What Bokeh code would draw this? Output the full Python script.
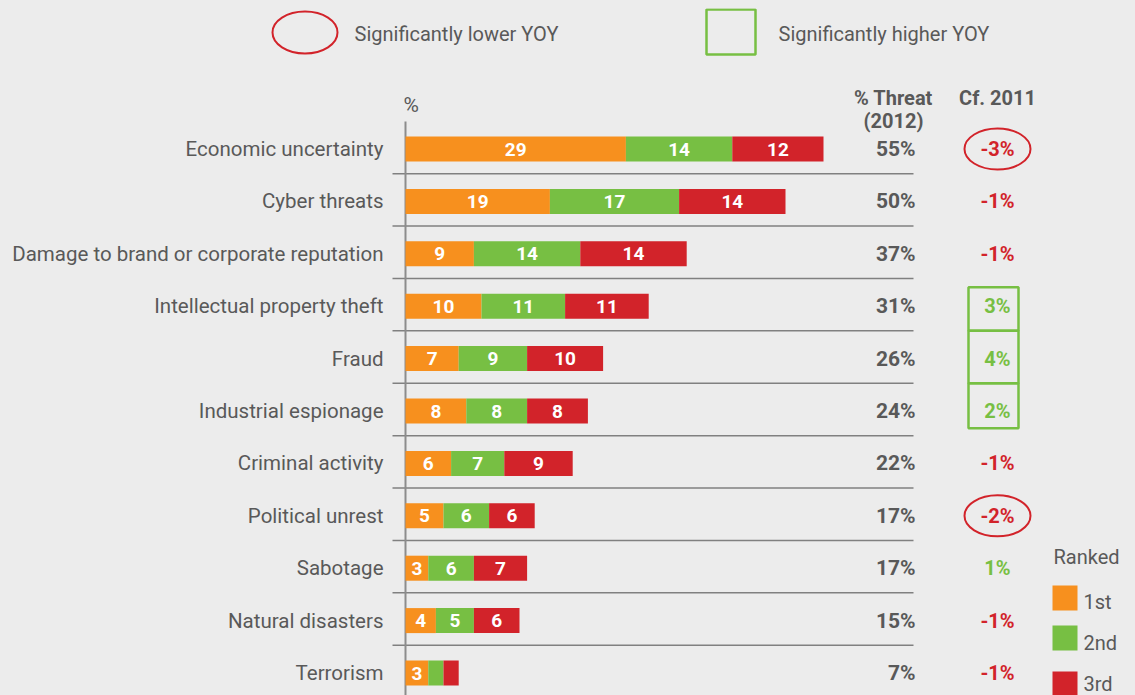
from bokeh.plotting import figure
from bokeh.models import Range1d, GlobalInlineStyleSheet
from bokeh.core.properties import value
from bokeh.embed import file_html
from bokeh.resources import INLINE

# ---------------- data ----------------
categories = ["Economic uncertainty", "Cyber threats", "Damage to brand or corporate reputation",
              "Intellectual property theft", "Fraud", "Industrial espionage", "Criminal activity",
              "Political unrest", "Sabotage", "Natural disasters", "Terrorism"]
rank1 = [29, 19, 9, 10, 7, 8, 6, 5, 3, 4, 3]
rank2 = [14, 17, 14, 11, 9, 8, 7, 6, 6, 5, 2]
rank3 = [12, 14, 14, 11, 10, 8, 9, 6, 7, 6, 2]
threat_2012 = [55, 50, 37, 31, 26, 24, 22, 17, 17, 15, 7]
change_vs_2011 = [-3, -1, -1, 3, 4, 2, -1, -2, 1, -1, -1]
significance = ["lower", "", "", "higher", "higher", "higher", "", "lower", "", "", ""]
rank_labels = ["1st", "2nd", "3rd"]
legend_labels = ["Significantly lower YOY", "Significantly higher YOY"]
header_threat = ["% Threat", "(2012)"]
header_cf = "Cf. 2011"
legend_title = "Ranked"

# ---------------- style ----------------
ORANGE, GREEN, RED = "#f7901e", "#77bf43", "#d2232a"
TXT = "#595959"
BG = "#ececec"
FONT = "Roboto"

W, H = 1119, 687
PX = 7.6      # pixels per percentage point
ROW = 52.4    # pixels per row
X0 = 405 - 8  # figure px of value 0
Y0 = 148.5 - 8  # figure px of first row centre


def sx(px):  # page px -> data x
    return (px - 8 - X0) / PX


def sy(py):  # page px -> data y (row units)
    return (py - 8 - Y0) / ROW


p = figure(width=W, height=H, output_backend="svg", toolbar_location=None,
           x_range=Range1d(-X0 / PX, (W - X0) / PX),
           y_range=Range1d((H - Y0) / ROW, -Y0 / ROW),
           min_border=0, outline_line_color=None,
           background_fill_color=BG, border_fill_color=BG)
p.axis.visible = False
p.grid.visible = False
p.stylesheets = [GlobalInlineStyleSheet(css="html, body { background-color: #ececec; } body { margin: 8px 8px 0 8px; }")]

n = len(categories)
ys = list(range(n))

# separators and axis line
p.segment(x0=[sx(392)] * (n - 1), x1=[sx(913)] * (n - 1), y0=[i + 0.47 for i in range(n - 1)],
          y1=[i + 0.47 for i in range(n - 1)], line_color="#808080", line_width=1.5)
p.segment(x0=[0], x1=[0], y0=[sy(121)], y1=[sy(720)], line_color="#8c8c8c", line_width=2)

# stacked bars
left = [0] * n
for vals, col in ((rank1, ORANGE), (rank2, GREEN), (rank3, RED)):
    right = [l + v for l, v in zip(left, vals)]
    p.hbar(y=ys, left=left, right=right, height=25 / ROW, fill_color=col, line_color=None)
    p.text(x=[(l + r) / 2 for l, r in zip(left, right)], y=ys,
           text=[str(v) if v >= 3 else "" for v in vals],
           text_color="white", text_font=value(FONT), text_font_style="bold",
           text_font_size="19px", text_align="center", text_baseline="middle")
    left = right

# category labels
p.text(x=[sx(383)] * n, y=ys, text=categories, text_color=TXT, text_font=value(FONT),
       text_font_size="20.5px", text_align="right", text_baseline="middle")
p.text(x=[sx(403)], y=[sy(104)], text=["%"], text_color=TXT, text_font=value(FONT),
       text_font_size="21px", text_align="left", text_baseline="middle")

# column headers
p.text(x=[sx(893), sx(893), sx(997)], y=[sy(97), sy(120), sy(97)],
       text=header_threat + [header_cf], text_color=TXT, text_font=value(FONT),
       text_font_style="bold", text_font_size="20px", text_align="center", text_baseline="middle")

# % threat column
p.text(x=[sx(915)] * n, y=ys, text=[f"{v}%" for v in threat_2012], text_color=TXT,
       text_font=value(FONT), text_font_style="bold", text_font_size="21px",
       text_align="right", text_baseline="middle")

# change column
p.text(x=[sx(997)] * n, y=ys, text=[f"{v}%" for v in change_vs_2011],
       text_color=[GREEN if v > 0 else RED for v in change_vs_2011],
       text_font=value(FONT), text_font_style="bold", text_font_size="20px",
       text_align="center", text_baseline="middle")

# significance markers
low_rows = [i for i, s in enumerate(significance) if s == "lower"]
p.ellipse(x=[sx(997)] * len(low_rows), y=low_rows, width=66 / PX, height=41 / ROW,
          fill_color=None, line_color=RED, line_width=2)
high_rows = [i for i, s in enumerate(significance) if s == "higher"]
tops, bottoms = [], []
for i in high_rows:
    tops.append(i - 0.53 if (i - 1) in high_rows else i - 0.36)
    bottoms.append(i + 0.47 if (i + 1) in high_rows else i + 0.33)
p.quad(left=[sx(968)] * len(high_rows), right=[sx(1018)] * len(high_rows), top=tops, bottom=bottoms,
       fill_color=None, line_color=GREEN, line_width=2.5)

# top legend
p.ellipse(x=[sx(304.5)], y=[sy(32)], width=65 / PX, height=42 / ROW,
          fill_color=None, line_color=RED, line_width=2)
p.quad(left=[sx(706)], right=[sx(755)], top=[sy(9)], bottom=[sy(54)],
       fill_color=None, line_color=GREEN, line_width=2.5)
p.text(x=[sx(354), sx(778)], y=[sy(33), sy(33)], text=legend_labels, text_color=TXT,
       text_font=value(FONT), text_font_size="20px", text_align="left", text_baseline="middle")

# ranked legend
p.text(x=[sx(1053)], y=[sy(556)], text=[legend_title], text_color=TXT, text_font=value(FONT),
       text_font_size="20px", text_align="left", text_baseline="middle")
sq_top = [585, 625, 671]
p.quad(left=[sx(1052)] * 3, right=[sx(1077)] * 3, top=[sy(t) for t in sq_top],
       bottom=[sy(t + 25) for t in sq_top], fill_color=[ORANGE, GREEN, RED], line_color=None)
p.text(x=[sx(1083)] * 3, y=[sy(601), sy(642), sy(683)], text=rank_labels, text_color=TXT,
       text_font=value(FONT), text_font_size="20px", text_align="left", text_baseline="middle")

open("out.html", "w").write(file_html(p, INLINE))
